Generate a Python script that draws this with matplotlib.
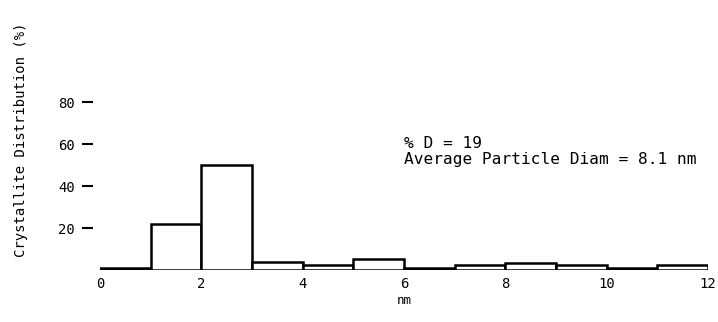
import matplotlib
matplotlib.use("Agg")
import matplotlib.pyplot as plt

bin_left = [0, 1, 2, 3, 4, 5, 6, 7, 8, 9, 10, 11]
values = [1.0, 22, 50, 3.8, 2.4, 5.2, 1.0, 2.4, 3.4, 2.4, 0.8, 2.6]
yticks = [20, 40, 60, 80]
xticks = [0, 2, 4, 6, 8, 10, 12]

font = "DejaVu Sans Mono"
fig = plt.figure(figsize=(7.18, 3.22), dpi=100)
ax = fig.add_axes([100/718, 1-270/322, 608/718, 210/322])
ax.bar(bin_left, values, width=1.0, align="edge", facecolor="white",
       edgecolor="black", linewidth=1.8)
ax.set_xlim(0, 12)
ax.set_ylim(0, 100)
for s in ["top", "right", "bottom", "left"]:
    ax.spines[s].set_visible(False)
ax.spines["left"].set_position(("outward", 5))
ax.set_yticks(yticks)
ax.set_yticklabels([str(v) for v in yticks], fontfamily=font, fontsize=10)
ax.tick_params(axis="y", direction="out", length=8, width=1.5, pad=5)
ax.set_xticks(xticks)
ax.set_xticklabels([str(v) for v in xticks], fontfamily=font, fontsize=10)
ax.tick_params(axis="x", length=0, pad=5)
ax.set_xlabel("nm", fontfamily=font, fontsize=9, labelpad=2)
fig.text(21/718, 1-140/322, "Crystallite Distribution (%)", rotation=90,
         ha="center", va="center", fontfamily=font, fontsize=10)
ax.text(6.0, 56.5, "% D = 19\nAverage Particle Diam = 8.1 nm",
        fontfamily=font, fontsize=11.6, va="center", ha="left", linespacing=1.1)
fig.savefig("out.png", dpi=100)
